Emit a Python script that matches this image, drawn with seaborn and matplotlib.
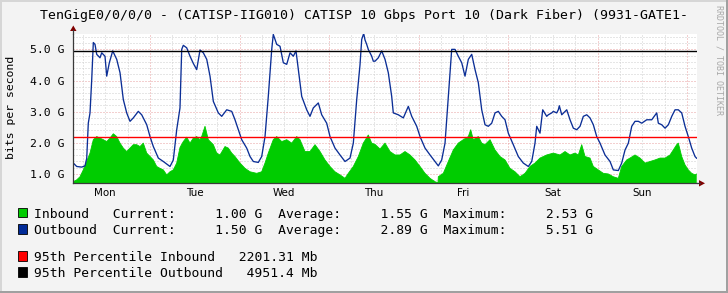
import matplotlib
matplotlib.use("Agg")
import matplotlib.pyplot as plt
import matplotlib.transforms as mtransforms
from matplotlib.patches import Polygon, Rectangle
import numpy as np
import pandas as pd
import seaborn as sns

# ---------------- data ----------------
title = "TenGigE0/0/0/0 - (CATISP-IIG010) CATISP 10 Gbps Port 10 (Dark Fiber) (9931-GATE1-"
days = ["Mon", "Tue", "Wed", "Thu", "Fri", "Sat", "Sun"]
ytick_vals = [1.0, 2.0, 3.0, 4.0, 5.0]
ytick_labels = ["1.0 G", "2.0 G", "3.0 G", "4.0 G", "5.0 G"]

# hours since Monday 00:00, values in Gbit/s
out_hours = [3.43, 4.34, 5.69, 6.57, 7.03, 7.45, 7.91, 8.37, 8.80, 9.25, 9.71, 10.59, 11.05, 11.93,
             12.39, 13.09, 14.00, 15.07, 15.96, 16.84, 17.75, 18.64, 19.52, 20.86, 21.77, 23.12,
             24.00, 24.89, 26.23, 27.57, 29.36, 30.25, 31.16, 32.04, 32.50, 32.93, 33.84, 34.73,
             35.61, 36.52, 37.00, 37.41, 38.29, 39.21, 40.09, 40.98, 42.32, 43.23, 44.57, 45.91,
             46.79, 47.68, 48.59, 49.93, 50.82, 51.70, 53.04, 53.95, 54.84, 55.72, 56.64, 57.06,
             57.98, 58.86, 59.75, 60.66, 61.55, 62.43, 63.15, 63.77, 64.68, 66.02, 66.90, 67.79,
             69.13, 70.04, 71.38, 72.27, 73.61, 74.95, 76.29, 77.63, 78.52, 79.43, 80.31, 80.77,
             81.30, 81.66, 82.11, 82.54, 83.45, 83.88, 84.34, 85.22, 86.13, 87.02, 87.90, 88.81,
             89.24, 90.58, 91.93, 93.27, 94.18, 95.52, 96.41, 97.75, 99.09, 100.43, 101.31,
             102.22, 103.11, 103.99, 104.90, 105.79, 106.67, 107.59, 108.47, 109.36, 110.27,
             111.16, 112.04, 112.95, 113.84, 114.72, 115.63, 116.52, 117.40, 118.31, 119.20,
             120.08, 121.42, 122.76, 124.10, 125.45, 126.36, 127.24, 127.70, 128.58, 129.31,
             130.38, 130.81, 131.72, 132.15, 133.06, 133.49, 133.76, 134.41, 135.75, 136.63,
             137.52, 138.43, 139.31, 140.20, 141.11, 141.99, 142.88, 143.79, 144.67, 146.01,
             147.36, 148.24, 149.58, 150.49, 151.38, 152.27, 153.18, 154.06, 154.95, 155.86,
             157.20, 158.54, 159.88, 160.31, 161.22, 162.11, 163.00, 163.91, 164.79, 165.67,
             166.58, 167.47, 168.35, 169.26, 170.15, 170.61]
out_gbps = [1.35, 1.24, 1.22, 1.26, 1.50, 2.63, 2.96, 4.03, 5.22, 5.16, 4.84, 4.73, 4.89, 4.78,
            4.14, 4.57, 4.95, 4.68, 4.25, 3.39, 2.96, 2.69, 2.80, 3.01, 2.90, 2.58,
            2.20, 1.88, 1.51, 1.40, 1.24, 1.45, 2.42, 3.12, 5.00, 5.13, 5.05, 4.78,
            4.55, 4.35, 4.68, 4.98, 4.89, 4.68, 4.14, 3.33, 2.96, 2.85, 3.06, 3.01,
            2.74, 2.42, 2.10, 1.83, 1.56, 1.40, 1.37, 1.56, 2.20, 3.49, 5.00, 5.48,
            5.16, 5.10, 4.57, 4.52, 4.89, 4.78, 4.95, 4.35, 3.49, 3.06, 2.85, 3.12,
            3.28, 2.90, 2.63, 2.20, 1.83, 1.61, 1.40, 1.51, 1.99, 3.39, 4.50, 5.32,
            5.51, 5.30, 5.16, 5.00, 4.78, 4.62, 4.62, 4.73, 4.95, 4.68, 4.25, 3.49,
            2.96, 2.90, 2.80, 3.17, 2.85, 2.53, 2.20, 1.83, 1.61, 1.40, 1.26,
            1.45, 1.99, 3.49, 5.00, 5.00, 4.78, 4.57, 4.14, 4.68, 4.84,
            4.35, 3.93, 3.06, 2.58, 2.53, 2.63, 2.96, 3.01, 2.85, 2.74,
            2.31, 1.94, 1.56, 1.35, 1.24, 1.40, 1.99, 2.53, 2.31, 3.06,
            2.85, 2.90, 2.96, 3.01, 2.96, 3.06, 3.19, 2.90, 3.06, 2.74,
            2.47, 2.42, 2.53, 2.85, 2.90, 2.80, 2.58, 2.20, 1.99, 1.61,
            1.40, 1.13, 1.11, 1.35, 1.77, 1.99, 2.53, 2.69, 2.69, 2.63,
            2.74, 2.74, 2.96, 2.63, 2.58, 2.47, 2.58, 2.85, 3.06, 3.06,
            2.96, 2.53, 2.20, 1.83, 1.56, 1.50]

in_hours = [3.43, 4.34, 5.23, 6.11, 7.03, 7.91, 8.80, 9.71, 10.59, 11.48, 12.39, 13.27, 14.16,
            15.07, 15.96, 16.84, 17.75, 18.64, 19.52, 20.43, 21.32, 22.20, 23.12, 24.00, 24.89,
            25.80, 26.68, 27.57, 28.48, 29.36, 30.25, 31.16, 32.04, 32.93, 33.84, 34.73, 35.61,
            36.52, 37.41, 37.86, 38.75, 39.64, 40.98, 41.89, 42.77, 44.11, 45.00, 45.91, 46.79,
            48.13, 49.48, 50.82, 52.61, 53.95, 54.84, 55.72, 57.06, 57.98, 59.32, 60.66, 62.00,
            63.34, 64.22, 65.56, 66.90, 68.25, 69.59, 70.93, 72.27, 73.61, 74.95, 76.29, 77.18,
            78.52, 79.86, 81.20, 82.54, 83.45, 84.34, 85.68, 87.02, 88.36, 89.70, 91.04, 92.38,
            93.72, 95.06, 96.41, 97.75, 99.09, 100.43, 101.23, 101.31, 102.65, 103.99, 105.33,
            106.67, 108.01, 109.36, 110.00, 110.70, 112.04, 112.95, 113.84, 115.18, 116.52,
            117.86, 119.20, 120.54, 121.88, 123.22, 124.56, 125.90, 127.24, 128.58, 130.38,
            132.15, 133.95, 135.29, 136.63, 137.97, 138.86, 139.77, 140.66, 141.99, 142.88,
            144.22, 145.56, 146.90, 148.24, 149.58, 150.49, 151.83, 152.72, 154.06, 155.40,
            156.74, 158.09, 159.43, 160.77, 162.11, 163.45, 164.33, 165.24, 165.67, 166.58,
            167.47, 168.35, 169.26, 170.15, 170.61]
in_gbps = [0.75, 0.81, 0.91, 1.13, 1.40, 1.67, 2.10, 2.20, 2.15, 2.10, 2.04, 2.15, 2.29,
           2.20, 1.99, 1.83, 1.72, 1.83, 1.94, 1.94, 1.88, 1.99, 1.67, 1.56, 1.45,
           1.24, 1.18, 1.13, 0.97, 1.07, 1.13, 1.35, 1.85, 2.04, 2.18, 1.99, 2.15,
           2.20, 2.10, 2.20, 2.53, 2.10, 1.94, 1.67, 1.61, 1.88, 1.83, 1.67, 1.56,
           1.35, 1.18, 1.07, 1.02, 1.07, 1.35, 1.67, 2.10, 2.20, 2.04, 2.10, 1.99,
           2.20, 2.10, 1.72, 1.72, 1.94, 1.72, 1.45, 1.24, 1.07, 0.97, 0.86, 1.02,
           1.24, 1.56, 1.99, 2.25, 1.99, 1.95, 1.80, 1.99, 1.72, 1.61, 1.61, 1.72,
           1.61, 1.45, 1.24, 1.02, 0.86, 0.75, 0.72, 0.91, 1.02, 1.40, 1.77,
           1.99, 2.10, 2.20, 2.42, 2.10, 2.20, 1.99, 1.94, 2.10, 1.77,
           1.56, 1.45, 1.18, 1.07, 0.91, 1.02, 1.24, 1.35, 1.51, 1.61,
           1.67, 1.61, 1.72, 1.61, 1.67, 1.61, 1.94, 1.56, 1.51, 1.24,
           1.13, 1.02, 1.00, 0.91, 0.86, 1.24, 1.45, 1.51, 1.61, 1.51,
           1.35, 1.40, 1.45, 1.51, 1.51, 1.61, 1.77, 1.94, 1.99, 1.56,
           1.29, 1.13, 1.02, 0.97, 1.00]

pct_in_gbps = 2.20131
pct_out_gbps = 4.9514
legend_rows = [
    ("Inbound   Current:     1.00 G  Average:     1.55 G  Maximum:     2.53 G", "#00CC00"),
    ("Outbound  Current:     1.50 G  Average:     2.89 G  Maximum:     5.51 G", "#002A97"),
    ("95th Percentile Inbound   2201.31 Mb", "#FF0000"),
    ("95th Percentile Outbound   4951.4 Mb", "#000000"),
]

# ---------------- figure ----------------
sns.set_style("white")
plt.rcParams['font.family'] = ['DejaVu Sans Mono', 'DejaVu Sans']

W, H = 728, 293
fig = plt.figure(figsize=(W / 100, H / 100), dpi=100, facecolor="#F3F3F3")
L, R, T, B = 73.3, 697.0, 33.8, 183.3
ax = fig.add_axes([L / W, 1 - B / H, (R - L) / W, (B - T) / H])
ax.set_facecolor("white")

def fx(x):
    return x / W

def fy(y):
    return 1 - y / H

df_out = pd.DataFrame({"hours": out_hours, "gbps": out_gbps})
df_in = pd.DataFrame({"hours": in_hours, "gbps": in_gbps})

xmin, xmax = 3.43, 170.68
ymin, ymax = 0.70, 5.50

# grid (below data)
minor_col = "#CFCFCF"
major_col = "#E8A0A0"
dot = (0, (1, 2))
for yv in np.arange(0.8, 5.5, 0.2):
    is_major = abs(yv - round(yv)) < 1e-6
    ax.axhline(yv, color=major_col if is_major else minor_col, lw=0.72, ls=dot, zorder=0.5)
for hv in range(6, 171, 6):
    ax.axvline(hv, color=major_col if hv % 24 == 0 else minor_col, lw=0.72, ls=dot, zorder=0.5)

ax.fill_between(df_in["hours"].to_numpy(), 0.0, df_in["gbps"].to_numpy(),
                facecolor="#00CC00", edgecolor="none", alpha=1.0, zorder=1)
sns.lineplot(data=df_in, x="hours", y="gbps", ax=ax, color="#00CC00", linewidth=0.6,
             zorder=1.1, estimator=None, sort=False)

sns.lineplot(data=df_out, x="hours", y="gbps", ax=ax, color="#0B2E96", linewidth=0.95,
             zorder=3, estimator=None, sort=False)

ax.axhline(pct_in_gbps, color="#FF0000", lw=1.0, zorder=4)
ax.axhline(pct_out_gbps, color="#000000", lw=1.0, zorder=4)

ax.set_xlim(xmin, xmax)
ax.set_ylim(ymin, ymax)

# axes styling
for s in ["top", "right"]:
    ax.spines[s].set_visible(False)
for s in ["left", "bottom"]:
    ax.spines[s].set_color("#3A3A3A")
    ax.spines[s].set_linewidth(0.9)
    ax.spines[s].set_zorder(5)

ax.set_yticks(ytick_vals)
ax.set_yticklabels(ytick_labels)
ax.set_yticks([v for v in np.arange(0.8, 5.5, 0.2) if abs(v - round(v)) > 1e-6], minor=True)
ax.tick_params(axis="y", which="major", length=2, width=0.72, color="#E07070", pad=4.3,
               labelsize=8.25, labelcolor="black")
ax.tick_params(axis="y", which="minor", length=2, width=0.72, color="#B0B0B0")
ax.set_xticks([h for h in range(24, 171, 24)])
ax.set_xticklabels([])
ax.set_xticks([h for h in range(6, 171, 6) if h % 24], minor=True)
ax.tick_params(axis="x", which="major", length=2, width=0.72, color="#E07070")
ax.tick_params(axis="x", which="minor", length=2, width=0.72, color="#B0B0B0")
for lbl in ax.get_yticklabels():
    lbl.set_fontfamily("DejaVu Sans Mono")
ax.set_xlabel("")
ax.set_ylabel("")

trans = mtransforms.blended_transform_factory(ax.transData, ax.transAxes)
for i, d in enumerate(days):
    ax.text(12 + 24 * i, (B - 193.3) / (B - T), d, transform=trans, ha="center", va="center",
            fontsize=7.4, family="DejaVu Sans", color="black", clip_on=False)

# axis arrows
arrow_col = "#7F0000"
fig.add_artist(plt.Line2D([fx(L), fx(L)], [fy(T), fy(29.5)], transform=fig.transFigure,
                          color="#3A3A3A", lw=0.9))
fig.add_artist(Polygon([[fx(L - 3.2), fy(31)], [fx(L + 3.2), fy(31)], [fx(L), fy(25.5)]],
                       closed=True, transform=fig.transFigure, color=arrow_col, lw=0))
fig.add_artist(plt.Line2D([fx(R), fx(700)], [fy(B), fy(B)], transform=fig.transFigure,
                          color="#3A3A3A", lw=0.9))
fig.add_artist(Polygon([[fx(699), fy(B - 3.2)], [fx(699), fy(B + 3.2)], [fx(705), fy(B)]],
                       closed=True, transform=fig.transFigure, color=arrow_col, lw=0))

# texts
fig.text(0.5, fy(18.5), title, ha="center", va="baseline", fontsize=9.5,
         family="DejaVu Sans Mono", color="black")
fig.text(fx(11), fy(107), "bits per second", rotation=90, ha="center", va="center",
         fontsize=8.25, family="DejaVu Sans Mono", color="black")
fig.text(fx(718.5), fy(5), "RRDTOOL / TOBI OETIKER", rotation=270, ha="center", va="top",
         fontsize=6.0, family="DejaVu Sans Mono", color="#A8A8A8")

baselines = [217.7, 234.0, 261.0, 277.0]
for (txt, col), yb in zip(legend_rows, baselines):
    fig.add_artist(Rectangle((fx(17.5), fy(yb - 0.5)), 9.5 / W, 9.5 / H, transform=fig.transFigure,
                             facecolor=col, edgecolor="black", lw=0.6))
    fig.text(fx(34.4), fy(yb), txt, ha="left", va="baseline", fontsize=9.33,
             family="DejaVu Sans Mono", color="black")

# frame (3D shade)
fig.add_artist(Rectangle((0, 0), 2 / W, 1, transform=fig.transFigure, facecolor="#D6D6D6", lw=0))
fig.add_artist(Rectangle((0, 1 - 2 / H), 1, 2 / H, transform=fig.transFigure, facecolor="#D6D6D6", lw=0))
fig.add_artist(Rectangle((1 - 2 / W, 0), 2 / W, 1, transform=fig.transFigure, facecolor="#A0A0A0", lw=0))
fig.add_artist(Rectangle((0, 0), 1, 2 / H, transform=fig.transFigure, facecolor="#A0A0A0", lw=0))

fig.savefig("out.png", dpi=100, facecolor=fig.get_facecolor())
